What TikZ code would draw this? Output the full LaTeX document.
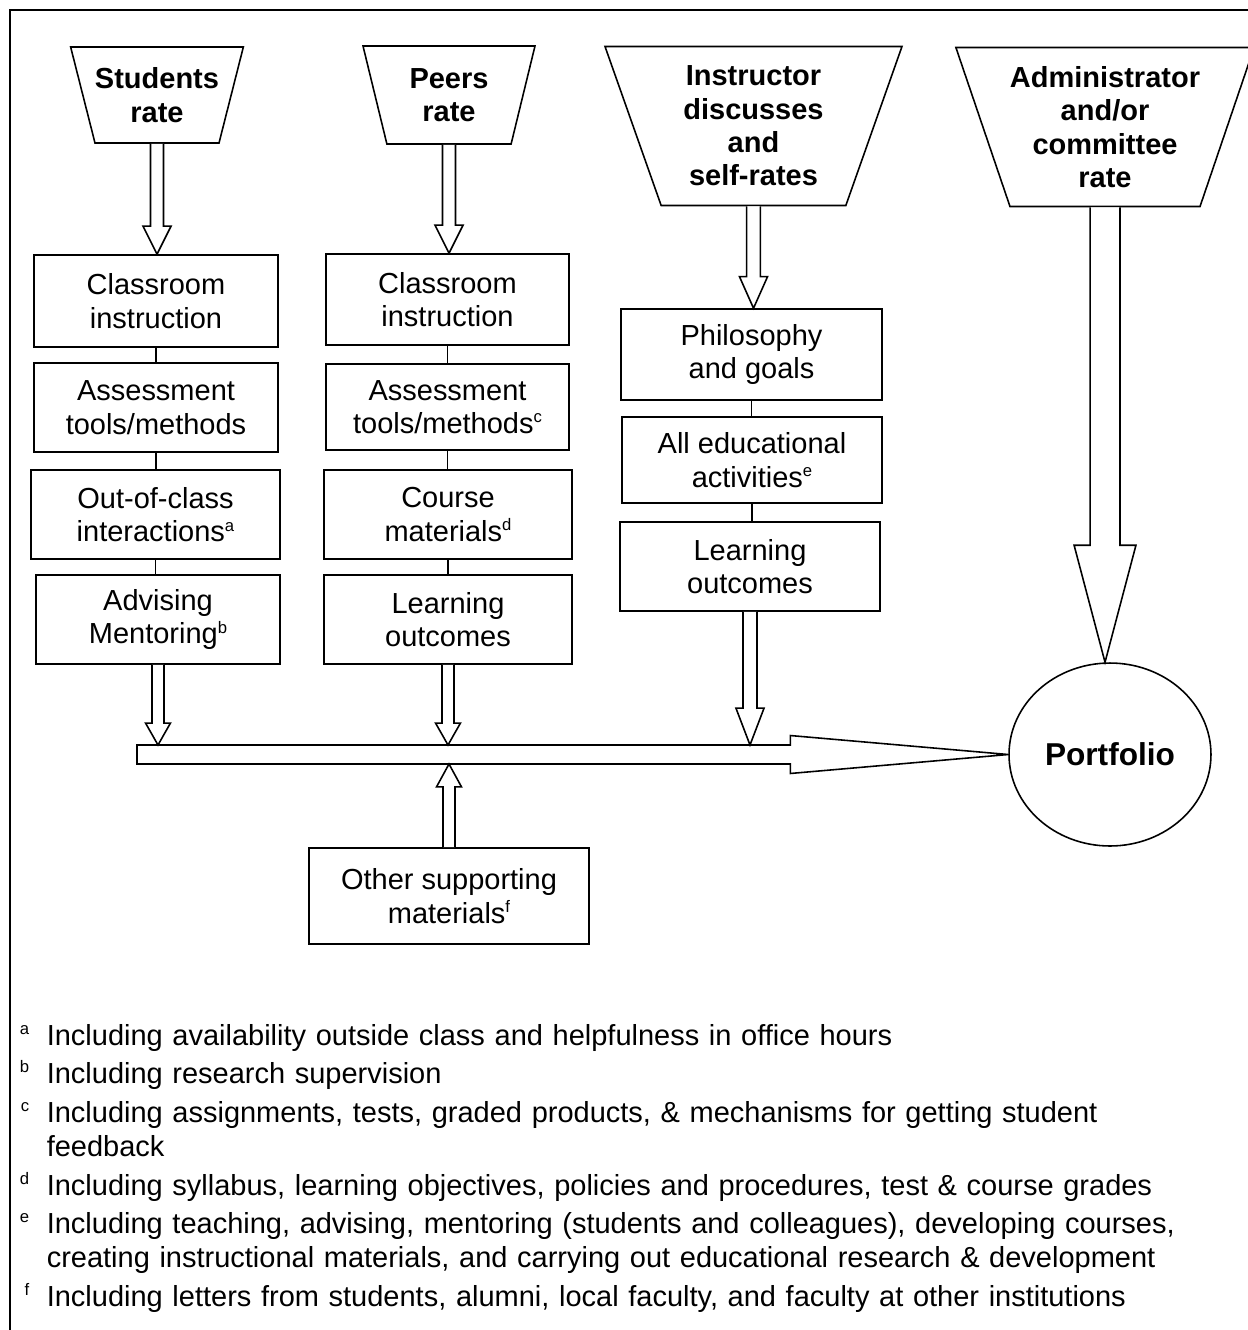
\documentclass[tikz,border=0pt]{standalone}
\usepackage{fontspec}
\setmainfont{Liberation Sans}
\usetikzlibrary{positioning,shapes.geometric,calc}

\newcommand{\sups}[1]{\raisebox{6pt}{\fontsize{9.5}{10}\selectfont #1}}
\newcommand{\fnmark}[1]{\makebox[0pt][r]{\sups{#1}\hspace{10pt}}}
\newcommand{\blockdown}[5]{%
  \draw[fill=white] let \p1=(#1), \p2=(#2) in
    ({\x1-#3},\y1) -- ({\x1-#3},{\y2+(#5)}) -- ({\x1-#4},{\y2+(#5)}) -- (\x1,\y2)
    -- ({\x1+#4},{\y2+(#5)}) -- ({\x1+#3},{\y2+(#5)}) -- ({\x1+#3},\y1);}
\newcommand{\blockright}[5]{%
  \draw[fill=white] let \p1=(#1), \p2=(#2) in
    (\x1,{\y2+#3}) -- ({\x2-#5},{\y2+#3}) -- ({\x2-#5},{\y2+#4}) -- (\x2,\y2)
    -- ({\x2-#5},{\y2-#4}) -- ({\x2-#5},{\y2-#3}) -- (\x1,{\y2-#3}) -- cycle;}

\begin{document}
\begin{tikzpicture}[
            x=0.02cm, y=-0.02cm,
            line width=0.9pt,
            trap/.style={trapezium, draw, shape border rotate=180, trapezium stretches body,
                trapezium left angle=66, trapezium right angle=66, inner sep=0pt,
                align=center, font=\fontsize{16.5}{19}\selectfont\bfseries},
            block/.style={rectangle, draw, inner sep=0pt, align=center,
                font=\fontsize{16.5}{19}\selectfont},
            note/.style={anchor=base west, inner sep=0pt, align=left, text width=24cm,
                font=\fontsize{16.5}{19.35}\selectfont}
        ]
        \useasboundingbox (0,0) rectangle (1248,1330);
        \draw[line width=1.2pt] (10,1330) -- (10,10) -- (1248,10);

        \node[trap, minimum width=3.42cm, minimum height=1.92cm] (students) at (157,95) {Students\\rate};
        \node[trap, minimum width=3.44cm, minimum height=1.96cm] (peers) at (449,95) {Peers\\rate};
        \node[trap, minimum width=5.94cm, minimum height=3.18cm, trapezium left angle=65,
            trapezium right angle=65] (instr) at (753.5,126) {Instructor\\discusses\\and\\self-rates};
        \node[trap, minimum width=5.68cm, minimum height=3.18cm] (admin) at (1105,127) {Administrator\\and/or\\committee\\rate};

        \node[block, minimum width=4.88cm, minimum height=1.84cm] (s1) at (156,301) {Classroom\\instruction};
        \node[block, minimum width=4.88cm, minimum height=1.78cm] (s2) at (156,407.5) {Assessment\\tools/methods};
        \node[block, minimum width=4.98cm, minimum height=1.78cm] (s3) at (155.5,514.5) {Out-of-class\\interactions\sups{a}};
        \node[block, minimum width=4.88cm, minimum height=1.78cm] (s4) at (158,619.5) {Advising\\Mentoring\sups{b}};

        \node[block, minimum width=4.86cm, minimum height=1.82cm] (p1) at (447.5,299.5) {Classroom\\instruction};
        \node[block, minimum width=4.86cm, minimum height=1.72cm] (p2) at (447.5,407) {Assessment\\tools/methods\sups{c}};
        \node[block, minimum width=4.96cm, minimum height=1.78cm] (p3) at (448,514.5) {Course\\materials\sups{d}};
        \node[block, minimum width=4.96cm, minimum height=1.78cm] (p4) at (448,619.5) {Learning\\outcomes};

        \node[block, minimum width=5.22cm, minimum height=1.82cm] (i1) at (751.5,354.5) {Philosophy\\and goals};
        \node[block, minimum width=5.20cm, minimum height=1.72cm] (i2) at (752,460) {All educational\\activities\sups{e}};
        \node[block, minimum width=5.20cm, minimum height=1.78cm] (i3) at (750,566.5) {Learning\\outcomes};

        \node[block, minimum width=5.60cm, minimum height=1.92cm] (other) at (449,896) {Other supporting\\materials\sups{f}};
        \node[ellipse, draw, inner sep=0pt, minimum width=4.04cm, minimum height=3.66cm,
            font=\fontsize{18}{21}\selectfont\bfseries] (port) at (1110,754.5) {Portfolio};

        \foreach \a/\b in {s1/s2,s2/s3,s3/s4,p1/p2,p2/p3,p3/p4,i1/i2,i2/i3}
            \draw (\a.south) -- (\a.south |- \b.north);

        \coordinate (barstart) at (137,754.5);
        \coordinate (bartop) at (137,745);
        \coordinate (barbot) at (137,764);

        \blockdown{students.south}{s1.north}{3.7pt}{8pt}{16pt}
        \blockdown{peers.south}{p1.north}{3.7pt}{8pt}{16pt}
        \blockdown{instr.south}{i1.north}{3.9pt}{8pt}{18pt}
        \blockdown{admin.south}{port.north}{8.5pt}{17.6pt}{66.6pt}

        \blockright{barstart}{port.west}{5.4pt}{10.8pt}{124pt}

        \blockdown{s4.south}{bartop}{3.4pt}{7.1pt}{12.5pt}
        \blockdown{p4.south}{bartop}{3.4pt}{7.1pt}{12.5pt}
        \blockdown{i3.south}{bartop}{4pt}{8pt}{21pt}
        \blockdown{other.north}{barbot}{3.4pt}{7.1pt}{-13pt}

        \node[note] (fa) at (46,1045) {\fnmark{a}Including availability outside class and helpfulness in office hours};
        \node[note] (fb) at (46,1083) {\fnmark{b}Including research supervision};
        \node[note] (fc) at (46,1122) {\fnmark{c}Including assignments, tests, graded products, \& mechanisms for getting student\\feedback};
        \node[note] (fd) at (46,1195) {\fnmark{d}Including syllabus, learning objectives, policies and procedures, test \& course grades};
        \node[note] (fe) at (46,1233) {\fnmark{e}Including teaching, advising, mentoring (students and colleagues), developing courses,\\creating instructional materials, and carrying out educational research \& development};
        \node[note] (ff) at (46,1306) {\fnmark{f}Including letters from students, alumni, local faculty, and faculty at other institutions};
    \end{tikzpicture}
\end{document}
